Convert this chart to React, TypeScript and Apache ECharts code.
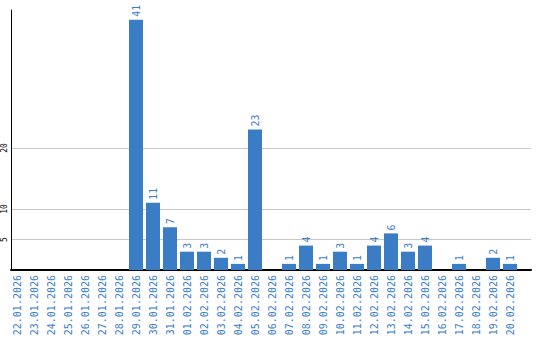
import React, { useEffect, useRef } from "react";
import * as echarts from "echarts";

const categories = [
  "22.01.2026", "23.01.2026", "24.01.2026", "25.01.2026", "26.01.2026",
  "27.01.2026", "28.01.2026", "29.01.2026", "30.01.2026", "31.01.2026",
  "01.02.2026", "02.02.2026", "03.02.2026", "04.02.2026", "05.02.2026",
  "06.02.2026", "07.02.2026", "08.02.2026", "09.02.2026", "10.02.2026",
  "11.02.2026", "12.02.2026", "13.02.2026", "14.02.2026", "15.02.2026",
  "16.02.2026", "17.02.2026", "18.02.2026", "19.02.2026", "20.02.2026",
];
const values = [
  0, 0, 0, 0, 0, 0, 0, 41, 11, 7,
  3, 3, 2, 1, 23, 0, 1, 4, 1, 3,
  1, 4, 6, 3, 4, 0, 1, 0, 2, 1,
];
const yTickLabels = [5, 10, 20];
const yMax = 42.6;

const BLUE = "#3a7dc4";
const MONO = "'DejaVu Sans Mono', monospace";

export default function App() {
  const ref = useRef<HTMLDivElement>(null);
  useEffect(() => {
    if (!ref.current) return;
    const chart = echarts.init(ref.current, null, { renderer: "svg" });
    const gridColors: string[] = [];
    for (let v = 0; v <= 45; v += 5) {
      gridColors.push(yTickLabels.includes(v) ? "#c8c8c8" : "rgba(0,0,0,0)");
    }
    chart.setOption({
      animation: false,
      backgroundColor: "#ffffff",
      grid: [
        { left: 10, top: 10, width: 521, height: 260 },
        { left: 8.5, top: 10, width: 510, height: 260 },
      ],
      xAxis: [
        {
          gridIndex: 0,
          type: "value",
          min: 0,
          max: 1,
          axisLine: { show: true, onZero: false, lineStyle: { color: "#000", width: 2 } },
          axisTick: { show: false },
          axisLabel: { show: false },
          splitLine: { show: false },
        },
        {
          gridIndex: 1,
          type: "category",
          data: categories,
          axisLine: { show: false },
          axisTick: { show: false },
          axisLabel: {
            interval: 0,
            rotate: 90,
            margin: 5,
            fontSize: 10,
            fontFamily: MONO,
            color: BLUE,
          },
        },
      ],
      yAxis: [
        {
          gridIndex: 0,
          type: "value",
          min: 0,
          max: yMax,
          interval: 5,
          axisLine: { show: true, onZero: false, lineStyle: { color: "#000", width: 1 } },
          axisTick: { show: false },
          axisLabel: {
            rotate: 90,
            margin: 3,
            fontSize: 8,
            fontFamily: MONO,
            color: "#000",
            formatter: (v: number) => (yTickLabels.includes(v) ? String(v) : ""),
          },
          splitLine: { show: true, lineStyle: { color: gridColors, width: 1 } },
        },
        {
          gridIndex: 1,
          type: "value",
          min: 0,
          max: yMax,
          show: false,
          splitLine: { show: false },
        },
      ],
      series: [
        {
          type: "bar",
          xAxisIndex: 1,
          yAxisIndex: 1,
          data: values,
          barWidth: 14,
          itemStyle: { color: BLUE },
          label: {
            show: true,
            position: "top",
            rotate: 90,
            align: "left",
            verticalAlign: "middle",
            distance: 3,
            fontSize: 10,
            fontFamily: MONO,
            color: BLUE,
            formatter: (p: any) => (p.value ? String(p.value) : ""),
          },
        },
      ],
    });
    return () => chart.dispose();
  }, []);
  return (
    <div
      ref={ref}
      style={{ position: "fixed", left: 0, top: 0, width: 540, height: 340, background: "#fff" }}
    />
  );
}
